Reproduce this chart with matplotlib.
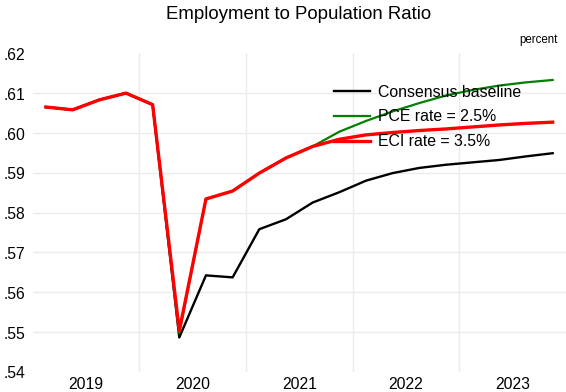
import matplotlib
matplotlib.use('Agg')
import matplotlib.pyplot as plt
import matplotlib.transforms as mtransforms
from matplotlib.ticker import FixedLocator, FuncFormatter

plt.rcParams['font.family'] = ['Liberation Sans', 'DejaVu Sans']

# quarterly, 2019Q1 .. 2023Q4
quarters = [f"{y}Q{q}" for y in range(2019, 2024) for q in range(1, 5)]

baseline = [0.6065, 0.6058, 0.6083, 0.6100, 0.6071,
            0.5486, 0.5642, 0.5637, 0.5758, 0.5783,
            0.5825, 0.5851, 0.5880, 0.5899, 0.5912,
            0.5920, 0.5926, 0.5932, 0.5941, 0.5949]
pce_25 = [0.6065, 0.6058, 0.6083, 0.6100, 0.6071,
          0.5497, 0.5834, 0.5854, 0.5899, 0.5937,
          0.5966, 0.6003, 0.6030, 0.6054, 0.6075,
          0.6094, 0.6108, 0.6119, 0.6127, 0.6133]
eci_35 = [0.6065, 0.6058, 0.6083, 0.6100, 0.6071,
          0.5503, 0.5834, 0.5854, 0.5899, 0.5937,
          0.5966, 0.5984, 0.5995, 0.6001, 0.6006,
          0.6010, 0.6015, 0.6020, 0.6024, 0.6027]

years = [2019, 2020, 2021, 2022, 2023]
yticks = [0.54, 0.55, 0.56, 0.57, 0.58, 0.59, 0.60, 0.61, 0.62]

# mid-quarter position in fractional years
xpos = [int(q[:4]) + (int(q[-1]) - 0.5) / 4 for q in quarters]

fig = plt.figure(figsize=(5.66, 3.92), dpi=100)
ax = fig.add_axes([0.0576, 0.0518, 0.9424, 0.8122])

ax.plot(xpos, baseline, color='black', lw=1.7, label='Consensus baseline')
ax.plot(xpos, pce_25, color='#008000', lw=1.6, label='PCE rate = 2.5%')
ax.plot(xpos, eci_35, color='#ff0000', lw=2.4, label='ECI rate = 3.5%')

ax.set_xlim(years[0], years[-1] + 1)
ax.set_ylim(yticks[0], yticks[-1])

ax.xaxis.set_major_locator(FixedLocator([y + 0.5 for y in years]))
ax.xaxis.set_major_formatter(FuncFormatter(lambda v, p: str(int(v))))
ax.xaxis.set_minor_locator(FixedLocator(years[1:]))
ax.set_yticks(yticks)
ax.yaxis.set_major_formatter(FuncFormatter(lambda v, p: f"{v:.2f}".lstrip('0')))

ax.tick_params(axis='both', which='both', length=0, labelsize=11.3, colors='black')
ax.tick_params(axis='x', pad=4)
ax.tick_params(axis='y', pad=5)
for lab in ax.get_yticklabels():
    lab.set_verticalalignment('bottom')

ax.grid(False)
ax.xaxis.grid(True, which='minor', color='#ebebeb', lw=1.0)
ax.yaxis.grid(True, which='major', color='#ebebeb', lw=1.0)
gl = ax.yaxis.get_gridlines()
gl[0].set_visible(False)
gl[-1].set_visible(False)
ax.set_axisbelow(True)
for s in ax.spines.values():
    s.set_visible(False)

# nudge y labels so they sit just above their grid line
offset = mtransforms.ScaledTranslation(0, -7 / 72, fig.dpi_scale_trans)
for lab in ax.get_yticklabels():
    lab.set_transform(lab.get_transform() + offset)

ax.legend(loc='upper left', bbox_to_anchor=(0.565, 0.901), frameon=False,
          fontsize=11.4, handlelength=2.3, handletextpad=0.45,
          labelspacing=0.61, borderpad=0, borderaxespad=0)

fig.text(0.527, 0.962, 'Employment to Population Ratio', ha='center', va='center',
         fontsize=13.4)
fig.text(0.986, 0.897, 'percent', ha='right', va='center', fontsize=8.3)

fig.savefig('out.png', dpi=100, facecolor='white')
